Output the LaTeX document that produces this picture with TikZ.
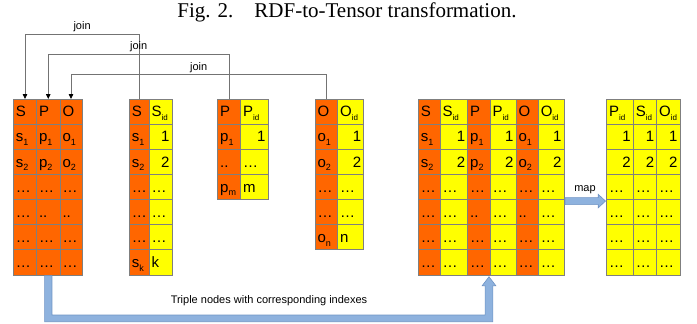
\documentclass[tikz,border=0pt]{standalone}
\usepackage{fontspec}
\setmainfont{Liberation Sans}
\newfontfamily\titlefont{Liberation Serif}
\usetikzlibrary{arrows.meta,calc}
\definecolor{cellor}{HTML}{FF6600}
\definecolor{cellye}{HTML}{FFFF00}
\definecolor{cellbd}{HTML}{7F7F7F}
\definecolor{arrfill}{HTML}{8EB2DE}
\definecolor{arrdraw}{HTML}{6E93C4}
\definecolor{joingray}{HTML}{737373}
\newcommand\lidx[1]{\raisebox{-0.45ex}{\fontsize{9}{9}\selectfont #1}}
\newcommand\lid{\raisebox{-0.5ex}{\fontsize{8}{8}\selectfont id}}
\newcommand\tcell[7]{%
  \pgfmathsetmacro\cw{#3-#2}%
  \pgfmathsetmacro\tw{#3-#2-5}%
  \pgfmathsetmacro\cx{(#2+#3)/2}%
  \pgfmathsetmacro\cy{99+25.143*#4+12.571}%
  \node[cellbox, fill=#5, minimum width=\cw pt, text width=\tw pt, align=#6] (#1) at (\cx,\cy) {#7};}
\begin{document}
\begin{tikzpicture}[x=1pt,y=-1pt,
  cellbox/.style={draw=cellbd, line width=0.8pt, inner xsep=2.5pt, inner ysep=0pt, outer sep=0pt,
    minimum height=25.143pt, text height=10.5pt, text depth=0pt, font=\fontsize{15}{15}\selectfont},
  joinline/.style={draw=joingray, line width=0.8pt, -{Triangle[length=5pt,width=4.5pt,color=black]}},
  lbl/.style={font=\fontsize{11}{11}\selectfont, inner sep=1pt},
  fatarrow/.style={fill=arrfill, draw=arrdraw, line width=0.6pt}]
\useasboundingbox (0,0) rectangle (697,324);
\node[font=\titlefont\fontsize{21}{21}\selectfont, anchor=base, inner sep=0pt] (title) at (347,17.5) {Fig. 2.\quad RDF-to-Tensor transformation.};

% SPO table
\tcell{spo-0-1}{13.5}{36.5}{0}{cellor}{left}{S}
\tcell{spo-0-2}{36.5}{60}{0}{cellor}{left}{P}
\tcell{spo-0-3}{60}{82}{0}{cellor}{left}{O}
\tcell{spo-1-1}{13.5}{36.5}{1}{cellor}{left}{s\lidx{1}}
\tcell{spo-1-2}{36.5}{60}{1}{cellor}{left}{p\lidx{1}}
\tcell{spo-1-3}{60}{82}{1}{cellor}{left}{o\lidx{1}}
\tcell{spo-2-1}{13.5}{36.5}{2}{cellor}{left}{s\lidx{2}}
\tcell{spo-2-2}{36.5}{60}{2}{cellor}{left}{p\lidx{2}}
\tcell{spo-2-3}{60}{82}{2}{cellor}{left}{o\lidx{2}}
\tcell{spo-4-1}{13.5}{36.5}{4}{cellor}{left}{\dots}
\tcell{spo-4-2}{36.5}{60}{4}{cellor}{left}{..}
\tcell{spo-4-3}{60}{82}{4}{cellor}{left}{..}
\foreach \a/\b/\c in {13.5/36.5/1,36.5/60/2,60/82/3}
  \foreach \r in {3,5,6} {\tcell{spo-\r-\c}{\a}{\b}{\r}{cellor}{left}{\dots}}

% S - Sid table
\tcell{sid-0-1}{129.3}{149}{0}{cellor}{left}{S}
\tcell{sid-0-2}{149}{172}{0}{cellye}{left}{S\lid}
\tcell{sid-1-1}{129.3}{149}{1}{cellor}{left}{s\lidx{1}}
\tcell{sid-1-2}{149}{172}{1}{cellye}{right}{1}
\tcell{sid-2-1}{129.3}{149}{2}{cellor}{left}{s\lidx{2}}
\tcell{sid-2-2}{149}{172}{2}{cellye}{right}{2}
\foreach \r in {3,4,5} {\tcell{sid-\r-1}{129.3}{149}{\r}{cellor}{left}{\dots}
  \tcell{sid-\r-2}{149}{172}{\r}{cellye}{left}{\dots}}
\tcell{sid-6-1}{129.3}{149}{6}{cellor}{left}{s\lidx{k}}
\tcell{sid-6-2}{149}{172}{6}{cellye}{left}{k}

% P - Pid table
\tcell{pid-0-1}{217.7}{240.7}{0}{cellor}{left}{P}
\tcell{pid-0-2}{240.7}{268}{0}{cellye}{left}{P\lid}
\tcell{pid-1-1}{217.7}{240.7}{1}{cellor}{left}{p\lidx{1}}
\tcell{pid-1-2}{240.7}{268}{1}{cellye}{right}{1}
\tcell{pid-2-1}{217.7}{240.7}{2}{cellor}{left}{..}
\tcell{pid-2-2}{240.7}{268}{2}{cellye}{left}{\dots}
\tcell{pid-3-1}{217.7}{240.7}{3}{cellor}{left}{p\lidx{m}}
\tcell{pid-3-2}{240.7}{268}{3}{cellye}{left}{m}

% O - Oid table
\tcell{oid-0-1}{315}{337.7}{0}{cellor}{left}{O}
\tcell{oid-0-2}{337.7}{363.7}{0}{cellye}{left}{O\lid}
\tcell{oid-1-1}{315}{337.7}{1}{cellor}{left}{o\lidx{1}}
\tcell{oid-1-2}{337.7}{363.7}{1}{cellye}{right}{1}
\tcell{oid-2-1}{315}{337.7}{2}{cellor}{left}{o\lidx{2}}
\tcell{oid-2-2}{337.7}{363.7}{2}{cellye}{right}{2}
\foreach \r in {3,4} {\tcell{oid-\r-1}{315}{337.7}{\r}{cellor}{left}{\dots}
  \tcell{oid-\r-2}{337.7}{363.7}{\r}{cellye}{left}{\dots}}
\tcell{oid-5-1}{315}{337.7}{5}{cellor}{left}{o\lidx{n}}
\tcell{oid-5-2}{337.7}{363.7}{5}{cellye}{left}{n}

% joined table
\tcell{big-0-1}{418.3}{440}{0}{cellor}{left}{S}
\tcell{big-0-2}{440}{467.7}{0}{cellye}{left}{S\lid}
\tcell{big-0-3}{467.7}{490}{0}{cellor}{left}{P}
\tcell{big-0-4}{490}{516}{0}{cellye}{left}{P\lid}
\tcell{big-0-5}{516}{538.3}{0}{cellor}{left}{O}
\tcell{big-0-6}{538.3}{564}{0}{cellye}{left}{O\lid}
\tcell{big-1-1}{418.3}{440}{1}{cellor}{left}{s\lidx{1}}
\tcell{big-1-2}{440}{467.7}{1}{cellye}{right}{1}
\tcell{big-1-3}{467.7}{490}{1}{cellor}{left}{p\lidx{1}}
\tcell{big-1-4}{490}{516}{1}{cellye}{right}{1}
\tcell{big-1-5}{516}{538.3}{1}{cellor}{left}{o\lidx{1}}
\tcell{big-1-6}{538.3}{564}{1}{cellye}{right}{1}
\tcell{big-2-1}{418.3}{440}{2}{cellor}{left}{s\lidx{2}}
\tcell{big-2-2}{440}{467.7}{2}{cellye}{right}{2}
\tcell{big-2-3}{467.7}{490}{2}{cellor}{left}{p\lidx{2}}
\tcell{big-2-4}{490}{516}{2}{cellye}{right}{2}
\tcell{big-2-5}{516}{538.3}{2}{cellor}{left}{o\lidx{2}}
\tcell{big-2-6}{538.3}{564}{2}{cellye}{right}{2}
\tcell{big-4-1}{418.3}{440}{4}{cellor}{left}{\dots}
\tcell{big-4-2}{440}{467.7}{4}{cellye}{left}{\dots}
\tcell{big-4-3}{467.7}{490}{4}{cellor}{left}{..}
\tcell{big-4-4}{490}{516}{4}{cellye}{left}{\dots}
\tcell{big-4-5}{516}{538.3}{4}{cellor}{left}{..}
\tcell{big-4-6}{538.3}{564}{4}{cellye}{left}{\dots}
\foreach \a/\b/\c/\f in {418.3/440/1/cellor,440/467.7/2/cellye,467.7/490/3/cellor,490/516/4/cellye,516/538.3/5/cellor,538.3/564/6/cellye}
  \foreach \r in {3,5,6} {\tcell{big-\r-\c}{\a}{\b}{\r}{\f}{left}{\dots}}

% result table
\tcell{res-0-1}{606.7}{633.3}{0}{cellye}{left}{P\lid}
\tcell{res-0-2}{633.3}{656.7}{0}{cellye}{left}{S\lid}
\tcell{res-0-3}{656.7}{680}{0}{cellye}{left}{O\lid}
\foreach \a/\b/\c in {606.7/633.3/1,633.3/656.7/2,656.7/680/3} {
  \tcell{res-1-\c}{\a}{\b}{1}{cellye}{right}{1}
  \tcell{res-2-\c}{\a}{\b}{2}{cellye}{right}{2}
  \foreach \r in {3,4,5,6} {\tcell{res-\r-\c}{\a}{\b}{\r}{cellye}{left}{\dots}}}

% join connectors
\draw[joinline] (sid-0-1.north) -- ([yshift=65pt]sid-0-1.north) -| node[pos=0.25, above=0.5pt, lbl] (jl1) {join} (spo-0-1.north);
\draw[joinline] (pid-0-1.north) -- ([yshift=45pt]pid-0-1.north) -| node[pos=0.25, above=0.5pt, lbl] (jl2) {join} (spo-0-2.north);
\draw[joinline] (oid-0-1.north) -- ([yshift=24.3pt]oid-0-1.north) -| node[pos=0.25, above=0.5pt, lbl] (jl3) {join} (spo-0-3.north);

% map arrow
\coordinate (ma) at ([xshift=1pt,yshift=-1.5pt]big-4-6.north east);
\coordinate (mb) at ([yshift=-1.5pt]res-4-1.north west);
\path[fatarrow] let \p1=(ma), \p2=(mb) in
  (\x1,\y1+3.5pt) -- (\x2-8.5pt,\y1+3.5pt) -- (\x2-8.5pt,\y1+6.8pt) -- (\x2-1.2pt,\y1)
  -- (\x2-8.5pt,\y1-6.8pt) -- (\x2-8.5pt,\y1-3.5pt) -- (\x1,\y1-3.5pt) -- cycle;
\node[lbl] (maplbl) at (585,190) {map};

% bottom arrow
\coordinate (ba) at ([yshift=-0.6pt]spo-6-2.south);
\coordinate (bt) at ([xshift=-1pt,yshift=-1.7pt]big-6-3.south east);
\path[fatarrow] let \p1=(ba), \p2=(bt) in
  (\x1-3.7pt,\y1) -- (\x1-3.7pt,\y1-46.1pt) -- (\x2+3.85pt,\y1-46.1pt) -- (\x2+3.85pt,\y2-9pt)
  -- (\x2+6.8pt,\y2-9pt) -- (\x2,\y2) -- (\x2-6.8pt,\y2-9pt) -- (\x2-3.85pt,\y2-9pt)
  -- (\x2-3.85pt,\y1-39.4pt) -- (\x1+3.7pt,\y1-39.4pt) -- (\x1+3.7pt,\y1) -- cycle;
\node[lbl] (tripl) at (269,301) {Triple nodes with corresponding indexes};
\end{tikzpicture}
\end{document}
